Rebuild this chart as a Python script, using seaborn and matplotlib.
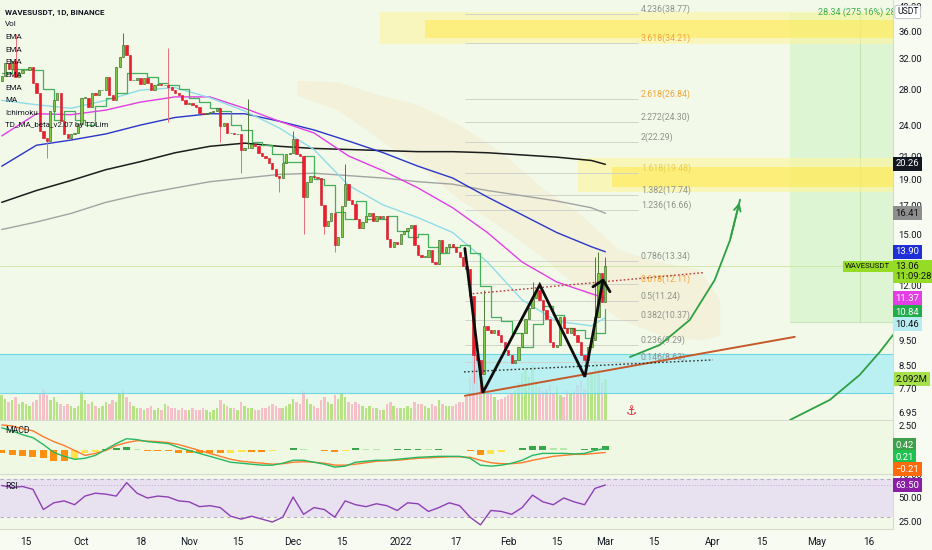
import matplotlib
matplotlib.use("Agg")
import matplotlib.pyplot as plt
import matplotlib.dates as mdates
import matplotlib.transforms as mtransforms
from matplotlib.ticker import NullLocator
import numpy as np
import pandas as pd
import seaborn as sns

# ---------------- data ----------------
start_date = "2021-09-08"
first_open = 29.0
closes = [
    # Sep 8 - Sep 30
    29.7, 31.3, 30.6, 31.7, 29.5, 30.1, 30.4, 30.4, 30.8, 28.8, 27.5, 23.4, 22.7, 22.4, 25.5, 26.7,
    27.6, 24.4, 23.1, 22.7, 23.1, 23.2, 24.1,
    # Oct
    27.0, 27.0, 25.9, 27.5, 27.3, 27.9, 27.9, 29.5, 27.3, 26.7, 30.8, 32.2, 33.9, 32.4, 29.1, 29.1,
    29.4, 28.7, 29.4, 28.8, 27.9, 28.5, 28.7, 28.5, 28.5, 28.3, 27.9, 27.6, 27.3, 26.7, 26.3,
    # Nov
    26.4, 26.2, 25.9, 25.3, 25.2, 25.3, 25.4, 25.5, 25.8, 23.9, 24.2, 23.2, 23.2, 23.1, 23.1, 21.6,
    21.7, 21.7, 22.1, 21.9, 21.3, 21.0, 20.8, 20.4, 19.9, 19.3, 19.1, 20.4, 21.2, 21.3,
    # Dec
    22.6, 21.2, 21.0, 17.6, 18.8, 19.3, 19.2, 19.1, 17.0, 15.5, 15.9, 16.4, 14.3, 14.8, 16.9, 18.6,
    17.4, 17.1, 16.0, 15.4, 15.8, 16.2, 16.4, 15.9, 16.2, 16.1, 16.2, 14.7, 14.2, 14.5, 14.4,
    # Jan
    15.0, 15.2, 15.4, 15.6, 14.3, 13.7, 13.6, 13.6, 14.0, 13.3, 13.2, 14.6, 13.9, 14.2, 14.4, 14.2,
    13.9, 13.6, 13.1, 12.9, 11.5, 8.9, 8.7, 8.2, 10.1, 9.9, 9.8, 9.9, 9.7, 9.4, 9.1,
    # Feb
    8.9, 8.6, 8.7, 9.2, 9.8, 10.4, 10.9, 11.4, 11.8, 11.3, 10.8, 10.4, 9.4, 9.2, 9.3, 10.5,
    10.0, 9.8, 10.0, 9.7, 9.4, 8.9, 8.7, 9.2, 9.5, 10.5, 12.7, 11.2,
    # Mar 1
    13.06,
]
volumes_m = [
    1.3, 1.1, 0.9, 1.0, 1.2, 0.8, 0.9, 0.8, 0.7, 0.9, 1.0, 1.4, 1.6, 1.3, 1.0, 1.2, 0.9, 0.8, 0.7, 0.8, 0.7, 0.6, 0.7,
    1.5, 1.0, 0.8, 0.9, 0.7, 0.6, 0.7, 0.9, 0.8, 1.0, 0.9, 1.4, 1.6, 1.2, 0.9, 0.7, 0.6, 0.6, 0.5, 0.6, 0.7, 0.5, 0.6,
    0.5, 0.8, 0.7, 0.6, 0.6, 0.5, 0.6, 0.5,
    0.5, 0.6, 0.5, 0.5, 0.6, 0.5, 0.4, 0.5, 0.6, 1.0, 0.8, 0.7, 0.6, 0.6, 0.5, 0.9, 0.7, 0.6, 0.6, 0.5, 0.5, 0.6, 0.6,
    0.7, 0.8, 0.7, 0.6, 0.6, 0.7, 0.8,
    1.1, 0.9, 0.8, 1.5, 1.1, 0.8, 0.7, 0.6, 1.0, 1.2, 0.9, 0.8, 1.3, 1.1, 1.4, 1.2, 0.9, 0.8, 0.9, 0.8, 0.7, 0.6, 0.7,
    0.6, 0.6, 0.5, 0.5, 0.8, 0.9, 0.7, 0.6,
    0.6, 0.6, 0.7, 0.6, 0.9, 0.8, 0.8, 0.7, 0.6, 0.8, 0.7, 1.0, 0.8, 0.7, 0.7, 0.7, 0.8, 0.9, 0.9, 1.2, 2.2, 3.6, 3.2,
    2.8, 2.6, 1.8, 1.4, 1.2, 1.0, 1.1, 1.2,
    1.3, 1.4, 1.6, 1.9, 2.4, 2.6, 2.2, 2.8, 2.0, 1.7, 1.5, 1.6, 1.8, 1.4, 1.7, 1.3, 1.2, 1.5, 1.4, 1.5, 1.8, 2.0, 1.6,
    2.2, 2.4, 3.0, 2.6, 1.9,
    2.092,
]
wick_highs = {4: 35.5, 35: 35.7, 48: 33.5, 71: 26.9, 84: 23.4, 99: 20.3, 139: 11.8, 153: 12.2,
              171: 13.6, 172: 13.9, 174: 13.6}
wick_lows = {13: 20.8, 48: 24.3, 63: 22.3, 69: 19.5, 80: 18.0, 87: 15.0, 93: 15.0, 96: 13.9,
             136: 7.9, 138: 7.6, 168: 8.1}

# moving averages, sampled every 10 days (+ last day)
ma_black = [17.2, 18.1, 18.9, 19.8, 20.5, 21.3, 21.9, 22.2, 21.9, 21.7, 21.6, 21.5, 21.4, 21.4, 21.3, 21.1, 20.9, 20.6, 20.26]
ma_gray = [15.3, 15.8, 16.4, 17.2, 17.8, 18.3, 18.8, 19.1, 19.4, 19.5, 19.3, 19.1, 18.8, 18.6, 18.1, 17.7, 17.3, 16.8, 16.41]
ema_blue = [20.1, 22.0, 22.5, 23.1, 24.0, 24.8, 25.2, 25.2, 24.4, 23.5, 22.4, 21.3, 20.1, 19.1, 17.6, 16.3, 15.1, 14.2, 13.90]
ema_magenta = [22.9, 25.2, 25.1, 25.6, 26.5, 27.1, 27.1, 25.8, 24.4, 23.2, 21.0, 19.7, 18.3, 16.8, 15.1, 13.3, 12.2, 11.6, 11.37]
ema_cyan = [26.7, 26.2, 25.8, 26.7, 27.9, 28.2, 27.0, 25.5, 23.7, 21.6, 18.5, 17.0, 16.1, 15.1, 13.3, 11.3, 10.3, 10.1, 10.46]

# indicators, sampled every 3 days
td_line = [30.0, 30.5, 30.5, 30.4, 28.0, 24.5, 25.5, 24.5, 24.0, 26.0, 27.0, 27.5, 30.0, 30.0, 29.5, 28.8, 28.5,
           28.0, 27.0, 26.5, 25.8, 25.5, 24.0, 23.5, 22.3, 22.0, 21.2, 20.5, 20.5, 21.0, 19.0, 18.5, 16.5, 16.0,
           17.3, 16.0, 16.0, 16.2, 15.2, 14.8, 15.0, 14.2, 13.8, 14.2, 14.3, 13.8, 12.0, 10.5, 10.3, 9.8, 9.2,
           10.2, 11.0, 10.6, 10.0, 9.9, 9.6, 9.8, 10.84]
macd_line = [2.3, 2.0, 1.6, 1.3, 0.6, -0.2, -0.6, -0.9, -0.8, -0.5, 0.1, 0.7, 1.2, 1.1, 0.9, 0.8, 0.7, 0.3, 0.0,
             -0.3, -0.6, -0.9, -1.2, -1.3, -1.4, -1.5, -1.5, -1.3, -1.0, -1.0, -1.2, -1.4, -1.7, -1.6, -1.2, -1.1,
             -1.0, -1.0, -0.9, -0.8, -0.7, -0.65, -0.6, -0.6, -0.6, -0.8, -1.5, -1.6, -1.5, -1.3, -1.0, -0.5,
             -0.3, -0.3, -0.3, -0.35, -0.3, 0.0, 0.21]
macd_signal = [2.6, 2.5, 2.2, 2.0, 1.4, 0.9, 0.5, 0.0, -0.5, -0.3, 0.0, 0.5, 0.8, 1.0, 0.95, 0.9, 0.8, 0.6, 0.3,
               0.0, -0.3, -0.6, -0.9, -1.1, -1.2, -1.3, -1.4, -1.35, -1.2, -1.15, -1.2, -1.3, -1.5, -1.5, -1.4,
               -1.25, -1.1, -1.05, -1.0, -0.9, -0.8, -0.75, -0.7, -0.65, -0.65, -0.7, -1.0, -1.25, -1.35, -1.35,
               -1.25, -1.0, -0.8, -0.6, -0.5, -0.4, -0.4, -0.3, -0.21]
rsi_values = [63, 61, 62, 59, 38, 45, 47, 43, 52, 55, 54, 52, 66, 55, 50, 52, 51, 47, 46, 41, 42, 40, 31, 28, 31,
              28, 25, 30, 51, 33, 40, 38, 30, 47, 43, 41, 44, 42, 37, 45, 44, 36, 40, 45, 42, 30, 22, 37, 36, 33,
              40, 53, 46, 43, 50, 46, 43, 60, 63.5]

# ichimoku cloud (faint)
cloud_dates = ["2021-12-02", "2021-12-14", "2021-12-26", "2022-01-06", "2022-01-18", "2022-01-29",
               "2022-02-10", "2022-02-22", "2022-03-05", "2022-03-17", "2022-03-28", "2022-04-03"]
cloud_top = [29.1, 28.9, 27.3, 26.2, 24.0, 21.6, 18.5, 16.3, 14.0, 13.3, 12.9, 11.3]
cloud_bottom = [27.3, 25.6, 22.5, 20.2, 17.4, 15.6, 13.7, 11.8, 10.4, 9.7, 9.5, 9.7]

# fibonacci extension levels
fib_labels = ["0.146(8.63)", "0.236(9.29)", "0.382(10.37)", "0.5(11.24)", "0.618(12.11)", "0.786(13.34)",
              "1.236(16.66)", "1.382(17.74)", "1.618(19.48)", "2(22.29)", "2.272(24.30)", "2.618(26.84)",
              "3.618(34.21)", "4.236(38.77)"]
fib_prices = [8.63, 9.29, 10.37, 11.24, 12.11, 13.34, 16.66, 17.74, 19.48, 22.29, 24.30, 26.84, 34.21, 38.77]

# drawings
zigzag_dates = ["2022-01-19 12:00", "2022-01-24 16:00", "2022-02-10 02:00", "2022-02-23 02:00", "2022-02-28 08:00"]
zigzag_prices = [14.1, 7.57, 12.05, 8.11, 12.3]
chevron_dates = ["2022-02-25 10:00", "2022-02-28 08:00", "2022-03-02 08:00"]
chevron_prices = [11.95, 12.3, 11.7]
trend_dates = ["2022-01-19 12:00", "2022-04-24 14:00"]
trend_prices = [7.47, 9.63]
red_dot_dates = ["2022-01-21 18:00", "2022-03-29 02:00"]
red_dot_prices = [11.6, 12.7]
black_dot_dates = ["2022-01-19 06:00", "2022-04-01 00:00"]
black_dot_prices = [8.28, 8.72]
arrow1_dates = ["2022-03-08 02:00", "2022-03-16 16:00", "2022-03-25 08:00", "2022-04-01 12:00",
                "2022-04-05 22:00", "2022-04-08 20:00"]
arrow1_prices = [8.83, 9.30, 10.36, 12.3, 14.6, 17.4]
arrow2_dates = ["2022-04-23 05:00", "2022-05-04 17:00", "2022-05-13 07:00", "2022-05-19 02:00", "2022-05-22 22:00"]
arrow2_prices = [6.73, 7.34, 8.17, 9.02, 9.71]

price_ticks = [6.95, 7.70, 8.50, 9.50, 12.00, 15.00, 17.00, 19.00, 21.00, 24.00, 28.00, 32.00, 36.00, 40.00]
x_tick_dates = ["2021-09-15", "2021-10-01", "2021-10-18", "2021-11-01", "2021-11-15", "2021-12-01",
                "2021-12-15", "2022-01-01", "2022-01-17", "2022-02-01", "2022-02-15", "2022-03-01",
                "2022-03-15", "2022-04-01", "2022-04-15", "2022-05-01", "2022-05-16"]
x_tick_labels = ["15", "Oct", "18", "Nov", "15", "Dec", "15", "2022", "17", "Feb", "15", "Mar", "15",
                 "Apr", "15", "May", "16"]

# ---------------- frames ----------------
dates = pd.date_range(start_date, periods=len(closes), freq="D")
opens = [first_open] + closes[:-1]
df = pd.DataFrame({"date": dates, "open": opens, "close": closes, "volume": volumes_m})
df["up"] = df["close"] >= df["open"]
df["high"] = df[["open", "close"]].max(axis=1)
df["low"] = df[["open", "close"]].min(axis=1)
for k, v in wick_highs.items():
    df.loc[k, "high"] = max(df.loc[k, "high"], v)
for k, v in wick_lows.items():
    df.loc[k, "low"] = min(df.loc[k, "low"], v)

ma_idx = list(range(0, len(closes), 10)) + [len(closes) - 1]
ma_dates = dates[ma_idx]
ind_dates = dates[::3]
ind = pd.DataFrame({"date": ind_dates, "macd": macd_line, "signal": macd_signal, "rsi": rsi_values, "td": td_line})
ind["hist"] = ind["macd"] - ind["signal"]

# ---------------- style ----------------
sns.set_theme(style="white")
plt.rcParams["font.family"] = ["Liberation Sans Narrow", "Roboto", "DejaVu Sans"]
TXT = "#131722"
BG = "#f2f9e8"
FIG_BG = "#f7fbf1"
GRID = "#d6dbd0"

fig = plt.figure(figsize=(9.32, 5.5), dpi=100)
fig.patch.set_facecolor(FIG_BG)
W, H = 932.0, 550.0
PW = 893 / W
rect_main = [0, 1 - 420 / H, PW, 420 / H]
rect_macd = [0, 1 - 474 / H, PW, 53 / H]
rect_rsi = [0, 1 - 529 / H, PW, 55 / H]

ax_vol = fig.add_axes(rect_main)
ax = fig.add_axes(rect_main)
ax_rsi = fig.add_axes(rect_rsi)
ax_macd = fig.add_axes(rect_macd)
ax_macd.set_zorder(5)

xmin = mdates.date2num(pd.Timestamp("2021-09-07 12:00"))
xmax = mdates.date2num(pd.Timestamp("2022-05-22 22:00"))
xd = mdates.date2num(df["date"])

def D(s):
    return mdates.date2num(pd.Timestamp(s))

def Ds(lst):
    return [D(s) for s in lst]

# ---- volume (underneath) ----
ax_vol.set_facecolor(BG)
vol_colors = np.where(df["up"], "#b6e383", "#f6c0c8")
ax_vol.bar(xd, df["volume"], width=0.72, color=vol_colors, linewidth=0)
ax_vol.set_ylim(0, 21.5)
ax_vol.set_xlim(xmin, xmax)
ax_vol.set_xticks([]); ax_vol.set_yticks([])
for s in ax_vol.spines.values():
    s.set_visible(False)

# ---- main price axis ----
ax.patch.set_visible(False)
ax.set_yscale("log")
ax.set_ylim(6.73, 41.15)
ax.set_xlim(xmin, xmax)

# long-position box and zones
ax.fill_between([D("2022-04-23 05:00"), xmax], 10.27, 38.9, color="#d4f3c8", alpha=0.65, lw=0, zorder=0.2)
ax.vlines(D("2022-05-13 07:00"), 10.27, 38.9, color="#bfe3b5", lw=0.8, zorder=0.3)
ax.hlines(10.27, D("2022-04-23 05:00"), xmax, color="#c7e6bf", lw=0.8, zorder=0.3)
# yellow target bands
ax.fill_between([D("2021-12-26"), xmax], 34.0, 39.1, color="#fff59a", alpha=0.55, lw=0, zorder=0.4)
ax.fill_between([D("2022-01-08"), xmax], 34.9, 37.8, color="#ffe94d", alpha=0.55, lw=0, zorder=0.4)
ax.fill_between([D("2022-02-21"), xmax], 18.0, 20.8, color="#fff59a", alpha=0.6, lw=0, zorder=0.4)
ax.fill_between([D("2022-03-03"), xmax], 18.4, 20.0, color="#ffe94d", alpha=0.6, lw=0, zorder=0.4)
# cyan support band
ax.axhspan(7.57, 8.95, color="#a8eef6", alpha=0.75, lw=0, zorder=0.5)
ax.axhline(7.57, color="#6fd6e4", lw=0.8, zorder=0.6)
ax.axhline(8.95, color="#6fd6e4", lw=0.8, zorder=0.6)
# ichimoku cloud
ax.fill_between(Ds(cloud_dates), cloud_bottom, cloud_top, color="#f9d7a8", alpha=0.22, lw=0, zorder=0.6)
# current price line
ax.axhline(13.06, color="#cfe8a8", lw=0.7, zorder=0.7)

# fib levels
fib_x0, fib_x1 = D("2022-01-19 12:00"), D("2022-03-10 12:00")
ax.hlines(fib_prices, fib_x0, fib_x1, color="#cfd3cb", lw=0.7, zorder=0.8)
for lab, p in zip(fib_labels, fib_prices):
    if lab.startswith(("0.618", "2.618", "3.618")):
        c = "#f0a53a"
    elif lab.startswith("1.618"):
        c = "#e6cf55"
    else:
        c = "#8f938c"
    ax.text(D("2022-03-11 06:00"), p, lab, color=c, fontsize=6.3, va="bottom", ha="left", zorder=1)

# moving averages
sns.lineplot(x=ma_dates, y=ma_gray, ax=ax, color="#a3a3a3", linewidth=1.0, legend=False, zorder=2)
sns.lineplot(x=ma_dates, y=ma_black, ax=ax, color="#1c1c1c", linewidth=1.1, legend=False, zorder=2)
sns.lineplot(x=ma_dates, y=ema_blue, ax=ax, color="#2a35c9", linewidth=1.0, legend=False, zorder=2)
sns.lineplot(x=ma_dates, y=ema_magenta, ax=ax, color="#e23ee6", linewidth=1.0, legend=False, zorder=2)
sns.lineplot(x=ma_dates, y=ema_cyan, ax=ax, color="#8fdcea", linewidth=1.0, legend=False, zorder=2)
sns.lineplot(x=ind_dates, y=td_line, ax=ax, color="#43b05c", linewidth=0.9, legend=False,
             drawstyle="steps-post", zorder=2.1)

# candles
wick_c = np.where(df["up"], "#4d7a35", "#ec6d78")
fill_c = np.where(df["up"], "#7fc843", "#ef1c2e")
edge_c = np.where(df["up"], "#2c5a1c", "#d01424")
ax.vlines(xd, df["low"], df["high"], colors=wick_c, lw=0.7, zorder=3)
body_bottom = df[["open", "close"]].min(axis=1)
body_h = (df["close"] - df["open"]).abs().clip(lower=0.04)
ax.bar(xd, body_h, bottom=body_bottom, width=0.66, color=fill_c, edgecolor=edge_c, linewidth=0.4, zorder=3.2)

# drawings
ax.plot(Ds(trend_dates), trend_prices, color="#c45a2c", lw=1.4, zorder=4)
ax.plot(Ds(red_dot_dates), red_dot_prices, color="#b33a3a", lw=1.0, ls=(0, (1.2, 1.6)), zorder=4)
ax.plot(Ds(black_dot_dates), black_dot_prices, color="#333333", lw=1.0, ls=(0, (1.2, 1.6)), zorder=4)
ax.plot(Ds(zigzag_dates), zigzag_prices, color="#0d0d0d", lw=2.0, zorder=4.5, solid_joinstyle="miter")
ax.plot(Ds(chevron_dates), chevron_prices, color="#0d0d0d", lw=2.0, zorder=4.5)
ax.plot(Ds(arrow1_dates), arrow1_prices, color="#2ea043", lw=1.3, zorder=4)
ax.annotate("", xy=(D(arrow1_dates[-1]), arrow1_prices[-1]), xytext=(D(arrow1_dates[-2]), arrow1_prices[-2]),
            arrowprops=dict(arrowstyle="->", color="#2ea043", lw=1.3, mutation_scale=12), zorder=4)
ax.plot(Ds(arrow2_dates), arrow2_prices, color="#2ea043", lw=1.3, zorder=4)
ax.text(D("2022-03-08 14:00"), 6.97, "\u2693", color="#e0233a", fontsize=9, ha="center", va="center",
        family=["DejaVu Sans"], zorder=4)

# long position text
t = ax.text(D("2022-05-01 06:00"), 1 - 12 / 420, "28.34 (275.16%) 283", color="#3aae45", fontsize=6.5,
            va="center", ha="left", transform=mtransforms.blended_transform_factory(ax.transData, ax.transAxes))
t.set_clip_box(ax.bbox); t.set_clip_on(True)

# header / legend
leg_lines = ["Vol", "EMA", "EMA", "EMA", "EMA", "EMA", "MA", "Ichimoku", "TD_MA_beta_v2.07 by TDLim"]
ax.text(5 / 893, 1 - 12 / 420, "WAVESUSDT, 1D, BINANCE", transform=ax.transAxes, fontsize=5.8,
        fontweight="bold", color=TXT, va="center", ha="left", zorder=6)
for n, s in enumerate(leg_lines):
    ax.text(5 / 893, 1 - (24.5 + 12.6 * n) / 420, s, transform=ax.transAxes, fontsize=5.8, color=TXT,
            va="center", ha="left", zorder=6)

# price axis
ax.yaxis.tick_right()
ax.set_yticks(price_ticks, labels=[f"{v:.2f}" for v in price_ticks])
ax.yaxis.set_minor_locator(NullLocator())
ax.tick_params(axis="y", length=0, pad=4, labelsize=6.8, labelcolor=TXT)
ax.tick_params(axis="x", length=0, labelbottom=False)
ax.set_xlabel(""); ax.set_ylabel("")

# right-hand value boxes
rt = mtransforms.blended_transform_factory(ax.transAxes, ax.transAxes)
boxes = [("20.26", 164, "#131722", "white"), ("16.41", 213, "#8e8e8e", "#111111"),
         ("13.90", 252, "#2130d6", "white"), ("11.37", 298, "#e43fe6", "white"),
         ("10.84", 312, "#22ad4a", "white"), ("10.46", 324, "#b7ecf2", "#111111")]
for txt, ypx, fc, tc in boxes:
    ax.text(1.0025, 1 - ypx / 420, txt, transform=rt, fontsize=6.8, color=tc, va="center", ha="left",
            bbox=dict(boxstyle="square,pad=0.28", fc=fc, ec="none"), zorder=8, clip_on=False)
ax.text(1.0025, 1 - 271.5 / 420, "13.06\n11:09:28", transform=rt, fontsize=6.8, color="#111111",
        va="center", ha="left", linespacing=1.05,
        bbox=dict(boxstyle="square,pad=0.28", fc="#96dc26", ec="none"), zorder=8, clip_on=False)
ax.text(0.997, 13.06, "WAVESUSDT", transform=mtransforms.blended_transform_factory(ax.transAxes, ax.transData),
        fontsize=5.6, color="#111111", va="center", ha="right",
        bbox=dict(boxstyle="square,pad=0.3", fc="#96dc26", ec="none"), zorder=8)
ax.text(1.0045, 1 - 12 / 420, "USDT", transform=rt, fontsize=6.2, color=TXT, va="center", ha="left",
        bbox=dict(boxstyle="round,pad=0.25", fc="white", ec="#b8bcc4", lw=0.6), zorder=8, clip_on=False)
ax_vol.text(1.0025, 2.092, "2.092M", transform=mtransforms.blended_transform_factory(ax_vol.transAxes, ax_vol.transData),
            fontsize=6.8, color="#111111", va="center", ha="left",
            bbox=dict(boxstyle="square,pad=0.28", fc="#a6e04a", ec="none"), zorder=8, clip_on=False)

# ---- MACD ----
ax_macd.set_facecolor("#eef8e2")
hist = ind["hist"].to_numpy()
hcol = []
for k, h in enumerate(hist):
    prev = hist[k - 1] if k > 0 else h
    if h >= 0:
        hcol.append("#3aa64c" if h >= prev else "#b6e8a8")
    else:
        hcol.append("#ff8f0f" if h <= prev else "#ffe24a")
ax_macd.bar(mdates.date2num(ind["date"]), hist, width=2.0, color=hcol, linewidth=0, zorder=1)
sns.lineplot(x=ind["date"], y=ind["signal"], ax=ax_macd, color="#ff7b2e", linewidth=1.0, legend=False, zorder=2)
sns.lineplot(x=ind["date"], y=ind["macd"], ax=ax_macd, color="#27b864", linewidth=1.0, legend=False, zorder=2)
ax_macd.set_xlim(xmin, xmax)
ax_macd.set_ylim(-2.4, 3.0)
ax_macd.yaxis.tick_right()
ax_macd.set_yticks([2.5], labels=["2.50"])
ax_macd.tick_params(axis="y", length=0, pad=4, labelsize=6.8, labelcolor=TXT)
ax_macd.tick_params(axis="x", length=0, labelbottom=False)
ax_macd.set_xlabel(""); ax_macd.set_ylabel("")
ax_macd.text(5 / 893, 0.83, "MACD", transform=ax_macd.transAxes, fontsize=6.3, color=TXT, va="center")
mt = ax_macd.transAxes
for txt, ypx, fc in [("0.42", 445, "#3f9f4a"), ("0.21", 457.5, "#1fc24f"), ("\u22120.21", 469, "#ff6a0a")]:
    ax_macd.text(1.0025, (474 - ypx) / 53, txt, transform=mt, fontsize=6.8, color="white", va="center",
                 ha="left", bbox=dict(boxstyle="square,pad=0.28", fc=fc, ec="none"), zorder=9, clip_on=False)

# ---- RSI ----
ax_rsi.set_facecolor(BG)
ax_rsi.axhspan(30, 70, color="#e6dcf2", alpha=0.8, lw=0, zorder=0.5)
ax_rsi.axhline(70, color="#b7a9c9", lw=0.8, ls=(0, (3, 3)), zorder=0.8)
ax_rsi.axhline(30, color="#b7a9c9", lw=0.8, ls=(0, (3, 3)), zorder=0.8)
ax_rsi.axhline(63.5, color="#c9a3d8", lw=0.7, ls=(0, (1, 2)), zorder=0.8)
sns.lineplot(x=ind["date"], y=ind["rsi"], ax=ax_rsi, color="#8e3fb4", linewidth=1.0, legend=False, zorder=2)
ax_rsi.set_xlim(xmin, xmax)
ax_rsi.set_ylim(17.7, 75.0)
ax_rsi.yaxis.tick_right()
ax_rsi.set_yticks([25, 50, 75], labels=["25.00", "50.00", "75.00"])
ax_rsi.tick_params(axis="y", length=0, pad=4, labelsize=6.8, labelcolor=TXT)
ax_rsi.set_xticks(Ds(x_tick_dates), labels=x_tick_labels)
ax_rsi.tick_params(axis="x", length=0, pad=6, labelsize=7.2, labelcolor=TXT)
ax_rsi.set_xlabel(""); ax_rsi.set_ylabel("")
ax_rsi.text(5 / 893, 0.78, "RSI", transform=ax_rsi.transAxes, fontsize=6.3, color=TXT, va="center")
ax_rsi.text(1.0025, 1 - 11 / 55, "63.50", transform=ax_rsi.transAxes, fontsize=6.8, color="white",
            va="center", ha="left", bbox=dict(boxstyle="square,pad=0.28", fc="#8a1fa6", ec="none"),
            zorder=9, clip_on=False)

for a in (ax, ax_macd, ax_rsi):
    for side in ("left", "top"):
        a.spines[side].set_visible(False)
    for side in ("right", "bottom"):
        a.spines[side].set_visible(True)
        a.spines[side].set_color(GRID)
        a.spines[side].set_linewidth(0.8)
    a.grid(False)

fig.savefig("out.png", dpi=100, facecolor=fig.get_facecolor())
